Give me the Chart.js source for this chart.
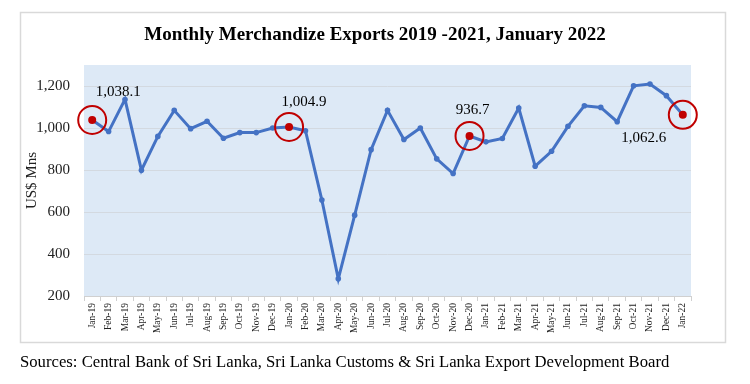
<!DOCTYPE html>
<html lang="en">
<head>
  <meta charset="UTF-8">
  <title>Monthly Merchandize Exports 2019 -2021, January 2022</title>
  <script src="https://cdn.jsdelivr.net/npm/chart.js"></script>
  <style>
    html, body { margin: 0; padding: 0; background: #fff; }
    #wrap { width: 750px; height: 384px; }
  </style>
</head>
<body>
<div id="wrap"><canvas id="exportsChart" width="750" height="384"></canvas></div>

<script>
  const months = ['Jan-19', 'Feb-19', 'Mar-19', 'Apr-19', 'May-19', 'Jun-19', 'Jul-19', 'Aug-19', 'Sep-19', 'Oct-19', 'Nov-19', 'Dec-19',
    'Jan-20', 'Feb-20', 'Mar-20', 'Apr-20', 'May-20', 'Jun-20', 'Jul-20', 'Aug-20', 'Sep-20', 'Oct-20', 'Nov-20', 'Dec-20',
    'Jan-21', 'Feb-21', 'Mar-21', 'Apr-21', 'May-21', 'Jun-21', 'Jul-21', 'Aug-21', 'Sep-21', 'Oct-21', 'Nov-21', 'Dec-21',
    'Jan-22'];
  const exportsUSD = [1038.1, 983, 1136, 799, 960, 1084, 997, 1032, 951, 978, 978, 1000,
    1004.9, 987, 657, 282, 585, 897, 1084, 945, 1000, 853, 783, 962,
    934, 950, 1095, 818, 889, 1008, 1106, 1098, 1030, 1201, 1209, 1154,
    1062.6];
  const highlightIdx = [0, 12, 23, 36];
  const highlightText = ['1,038.1', '1,004.9', '936.7', '1,062.6'];
  const yTicks = [200, 400, 600, 800, 1000, 1200];

  const titleText = 'Monthly Merchandize Exports 2019 -2021, January 2022';
  const sourceText = 'Sources: Central Bank of Sri Lanka, Sri Lanka Customs & Sri Lanka Export Development Board';

  // label offsets (px) from each highlighted point
  const labelOffsets = [[26, -28], [15, -25], [3, -26], [-39, 23]];

  const serif = '"Liberation Serif", "Times New Roman", serif';
  const red = '#c00000';

  const frame = {
    id: 'frame',
    beforeDraw(chart) {
      const c = chart.ctx, a = chart.chartArea;
      c.save();
      c.fillStyle = '#fff';
      c.fillRect(0, 0, chart.width, chart.height);
      c.strokeStyle = '#d9d9d9';
      c.lineWidth = 1.5;
      c.strokeRect(20.5, 12.5, 705, 330);
      c.fillStyle = '#dde9f6';
      c.fillRect(a.left, a.top, a.right - a.left, a.bottom - a.top);
      c.restore();
    },
    afterDraw(chart) {
      const c = chart.ctx;
      const meta = chart.getDatasetMeta(0);
      c.save();
      c.fillStyle = '#000';
      c.textAlign = 'center';
      c.textBaseline = 'middle';
      c.font = 'bold 19px ' + serif;
      c.fillText(titleText, 375, 35);
      c.font = '15px ' + serif;
      highlightIdx.forEach((idx, k) => {
        const p = meta.data[idx];
        c.fillText(highlightText[k], p.x + labelOffsets[k][0], p.y + labelOffsets[k][1]);
      });
      c.textAlign = 'left';
      c.font = '16.7px ' + serif;
      c.fillText(sourceText, 20, 363);
      c.restore();
    }
  };

  const ringData = exportsUSD.map((v, i) => highlightIdx.includes(i) ? v : null);

  new Chart(document.getElementById('exportsChart'), {
    type: 'line',
    data: {
      labels: months,
      datasets: [{
        label: 'Exports',
        data: exportsUSD,
        borderColor: '#4472c4',
        borderWidth: 3,
        pointRadius: ctx => highlightIdx.includes(ctx.dataIndex) ? 4 : 2.8,
        pointBackgroundColor: ctx => highlightIdx.includes(ctx.dataIndex) ? red : '#4472c4',
        pointBorderWidth: 0,
        tension: 0,
        order: 2
      }, {
        label: 'Highlight',
        data: ringData,
        showLine: false,
        pointRadius: 14,
        pointBorderWidth: 2,
        pointBorderColor: red,
        pointBackgroundColor: 'rgba(0,0,0,0)',
        order: 1
      }]
    },
    options: {
      responsive: false,
      animation: false,
      layout: { padding: { left: 20, right: 59, top: 65, bottom: 0 } },
      plugins: {
        legend: { display: false },
        title: { display: false },
        tooltip: { enabled: false }
      },
      scales: {
        x: {
          offset: true,
          afterFit(scale) { scale.height = 88; },
          grid: { drawOnChartArea: false, drawTicks: true, tickLength: 5, color: '#d0d0d0', offset: true },
          border: { color: '#d0d0d0' },
          ticks: {
            autoSkip: false, maxRotation: 90, minRotation: 90, padding: 2,
            color: '#222', font: { family: serif, size: 9.5 }
          }
        },
        y: {
          min: 200,
          max: 1300,
          afterFit(scale) { scale.width = 64; },
          afterBuildTicks(scale) { scale.ticks = yTicks.map(v => ({ value: v })); },
          border: { display: false },
          grid: { drawTicks: false, color: '#d3d9e0' },
          ticks: {
            padding: 14,
            color: '#222',
            font: { family: serif, size: 15 },
            callback: v => v.toLocaleString('en-US')
          },
          title: {
            display: true, text: 'US$ Mns', color: '#222',
            font: { family: serif, size: 15 }, padding: { top: 3, bottom: 0 }
          }
        }
      }
    },
    plugins: [frame]
  });
</script>
</body>
</html>
